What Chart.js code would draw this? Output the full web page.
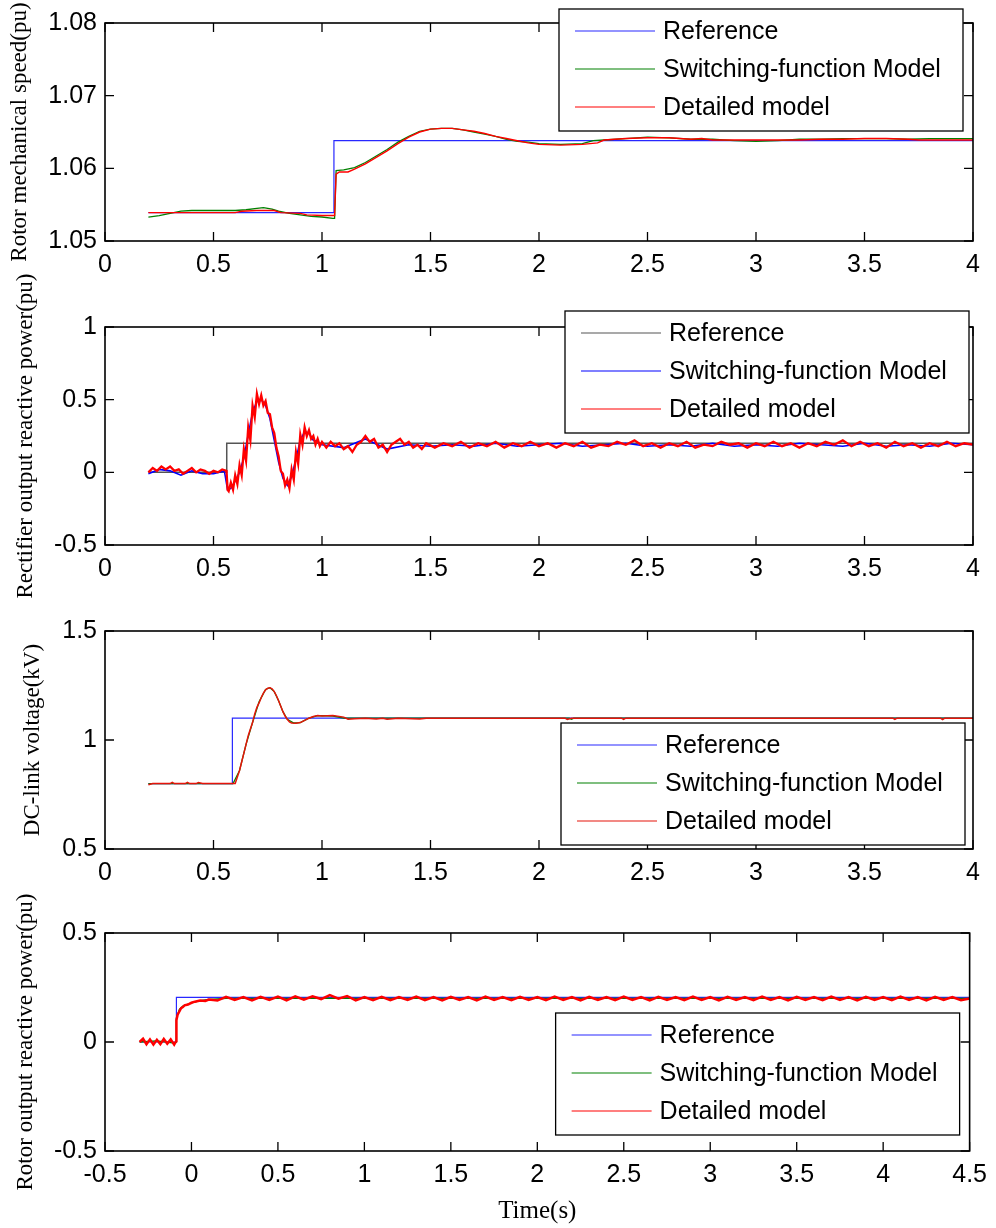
<!DOCTYPE html>
<html>
<head>
<meta charset="utf-8">
<script src="https://cdn.jsdelivr.net/npm/chart.js@4.4.1/dist/chart.umd.min.js"></script>
<style>
  body { margin: 0; background: #fff; width: 996px; height: 1228px; position: relative; overflow: hidden; }
  canvas { position: absolute; left: 0; }
</style>
</head>
<body>
<canvas id="c1" width="996" height="300" style="top:0px"></canvas>
<canvas id="c2" width="996" height="335" style="top:265px"></canvas>
<canvas id="c3" width="996" height="325" style="top:575px"></canvas>
<canvas id="c4" width="996" height="348" style="top:880px"></canvas>
<script>
// ---- data (time s, value) ----
const legendNames = ['Reference', 'Switching-function Model', 'Detailed model'];

// panel 1: rotor mechanical speed (pu)
const speedTicksX = [0, 0.5, 1, 1.5, 2, 2.5, 3, 3.5, 4];
const speedLabelsX = ['0', '0.5', '1', '1.5', '2', '2.5', '3', '3.5', '4'];
const speedTicksY = [1.05, 1.06, 1.07, 1.08];
const speedLabelsY = ['1.05', '1.06', '1.07', '1.08'];
const speedRef = [[0.2, 1.0539], [1.055, 1.0539], [1.055, 1.0638], [4.0, 1.0638]];
const speedSwitching = [
  [0.20, 1.0533], [0.25, 1.0535], [0.30, 1.0538], [0.35, 1.0541], [0.40, 1.0542], [0.50, 1.0542], [0.60, 1.0542],
  [0.65, 1.0543], [0.70, 1.0545], [0.73, 1.0546], [0.77, 1.0544], [0.80, 1.0541], [0.85, 1.0538], [0.90, 1.0536],
  [0.95, 1.0534], [1.00, 1.0533], [1.05, 1.0531], [1.058, 1.0531], [1.065, 1.0597], [1.10, 1.0598], [1.15, 1.0601],
  [1.20, 1.0608], [1.25, 1.0617], [1.30, 1.0626], [1.35, 1.0636], [1.40, 1.0644], [1.45, 1.0651], [1.50, 1.0654],
  [1.55, 1.0655], [1.60, 1.0655], [1.65, 1.0653], [1.70, 1.0650], [1.75, 1.0647], [1.80, 1.0644], [1.85, 1.0640],
  [1.90, 1.0637], [1.95, 1.0636], [2.00, 1.0634], [2.10, 1.0633], [2.20, 1.0634], [2.25, 1.0638], [2.30, 1.0639],
  [2.40, 1.0641], [2.50, 1.0643], [2.60, 1.0642], [2.70, 1.0640], [2.80, 1.0640], [2.90, 1.0638], [3.00, 1.0637],
  [3.10, 1.0638], [3.20, 1.0640], [3.30, 1.0640], [3.40, 1.0641], [3.50, 1.0641], [3.60, 1.0641], [3.70, 1.0640],
  [3.80, 1.0641], [3.90, 1.0641], [4.00, 1.0641]
];
const speedDetailed = [
  [0.20, 1.0539], [0.60, 1.0539], [0.63, 1.0541], [0.70, 1.0542], [0.78, 1.0542], [0.81, 1.0539], [0.90, 1.0538],
  [0.93, 1.0536], [1.00, 1.0535], [1.058, 1.0535], [1.065, 1.0592], [1.08, 1.0595], [1.12, 1.0595], [1.15, 1.0599],
  [1.20, 1.0606], [1.25, 1.0615], [1.30, 1.0624], [1.35, 1.0634], [1.40, 1.0643], [1.45, 1.0650], [1.50, 1.0654],
  [1.55, 1.0655], [1.60, 1.0655], [1.65, 1.0653], [1.70, 1.0651], [1.75, 1.0648], [1.80, 1.0644], [1.85, 1.0641],
  [1.90, 1.0638], [1.95, 1.0635], [2.00, 1.0633], [2.10, 1.0632], [2.20, 1.0633], [2.27, 1.0635], [2.30, 1.0639],
  [2.40, 1.0641], [2.50, 1.0642], [2.60, 1.0642], [2.70, 1.0640], [2.75, 1.0641], [2.80, 1.0639], [2.90, 1.0639],
  [3.00, 1.0639], [3.10, 1.0639], [3.20, 1.0639], [3.30, 1.0640], [3.40, 1.0640], [3.50, 1.0641], [3.60, 1.0641],
  [3.70, 1.0640], [3.75, 1.0639], [4.00, 1.0639]
];

// panel 2: rectifier output reactive power (pu)
const rectTicksY = [-0.5, 0, 0.5, 1];
const rectLabelsY = ['-0.5', '0', '0.5', '1'];
const rectRef = [[0.2, 0], [0.561, 0], [0.561, 0.2], [4.0, 0.2]];
const rectSwitching = [
  [0.20, -0.01], [0.25, 0.02], [0.30, 0.01], [0.35, -0.02], [0.40, 0.01], [0.45, -0.01], [0.50, -0.01], [0.55, 0.01],
  [0.565, -0.12], [0.58, -0.11], [0.60, -0.06], [0.62, 0.00], [0.64, 0.10], [0.66, 0.26], [0.68, 0.41], [0.70, 0.49],
  [0.72, 0.50], [0.74, 0.46], [0.76, 0.37], [0.78, 0.22], [0.80, 0.07], [0.82, -0.04], [0.84, -0.09], [0.86, -0.03],
  [0.88, 0.09], [0.90, 0.22], [0.92, 0.28], [0.94, 0.27], [0.96, 0.22], [0.98, 0.21], [1.00, 0.19], [1.10, 0.17],
  [1.20, 0.23], [1.30, 0.16], [1.40, 0.19], [1.50, 0.18], [1.60, 0.19], [1.70, 0.18], [1.80, 0.20], [1.90, 0.18],
  [2.00, 0.19], [2.10, 0.20], [2.20, 0.18], [2.30, 0.19], [2.40, 0.20], [2.50, 0.18], [2.60, 0.19], [2.70, 0.18],
  [2.80, 0.20], [2.90, 0.18], [3.00, 0.19], [3.10, 0.18], [3.20, 0.20], [3.30, 0.19], [3.40, 0.18], [3.50, 0.20],
  [3.60, 0.18], [3.70, 0.19], [3.80, 0.18], [3.90, 0.20], [4.00, 0.19]
];
const rectDetailed = [
  [0.20, 0.00], [0.22, 0.03], [0.24, 0.01], [0.26, 0.04], [0.28, 0.02], [0.30, 0.04], [0.32, 0.01], [0.34, 0.02],
  [0.36, -0.01], [0.38, 0.01], [0.40, 0.03], [0.42, 0.00], [0.44, 0.02], [0.46, 0.01], [0.48, -0.01], [0.50, 0.01],
  [0.52, 0.00], [0.54, 0.02], [0.56, 0.01], [0.565, -0.12], [0.57, -0.13], [0.58, -0.07], [0.59, -0.12], [0.60, -0.02],
  [0.61, -0.08], [0.62, 0.05], [0.63, -0.02], [0.64, 0.16], [0.65, 0.08], [0.66, 0.31], [0.67, 0.22], [0.68, 0.46],
  [0.69, 0.38], [0.70, 0.54], [0.71, 0.47], [0.72, 0.53], [0.73, 0.46], [0.74, 0.49], [0.75, 0.41], [0.76, 0.40],
  [0.77, 0.31], [0.78, 0.27], [0.79, 0.17], [0.80, 0.11], [0.81, 0.01], [0.82, -0.01], [0.83, -0.09], [0.84, -0.05],
  [0.85, -0.11], [0.86, 0.02], [0.87, -0.05], [0.88, 0.14], [0.89, 0.06], [0.90, 0.26], [0.91, 0.19], [0.92, 0.31],
  [0.93, 0.25], [0.94, 0.29], [0.95, 0.23], [0.96, 0.25], [0.97, 0.19], [0.98, 0.23], [0.99, 0.18], [1.00, 0.21],
  [1.02, 0.17], [1.04, 0.21], [1.06, 0.18], [1.08, 0.20], [1.10, 0.16], [1.12, 0.18], [1.14, 0.14], [1.16, 0.19],
  [1.18, 0.21], [1.20, 0.25], [1.22, 0.21], [1.24, 0.23], [1.26, 0.17], [1.28, 0.19], [1.30, 0.14], [1.32, 0.19],
  [1.34, 0.21], [1.36, 0.23], [1.38, 0.19], [1.40, 0.21], [1.42, 0.17], [1.44, 0.19], [1.46, 0.16], [1.48, 0.20],
  [1.52, 0.17], [1.56, 0.20], [1.60, 0.18], [1.64, 0.21], [1.68, 0.17], [1.72, 0.20], [1.76, 0.18], [1.80, 0.21],
  [1.84, 0.17], [1.88, 0.20], [1.92, 0.18], [1.96, 0.21], [2.00, 0.18], [2.04, 0.20], [2.08, 0.17], [2.12, 0.20],
  [2.16, 0.18], [2.20, 0.21], [2.24, 0.17], [2.28, 0.19], [2.32, 0.18], [2.36, 0.21], [2.40, 0.19], [2.44, 0.22],
  [2.48, 0.18], [2.52, 0.20], [2.56, 0.17], [2.60, 0.20], [2.64, 0.18], [2.68, 0.21], [2.72, 0.17], [2.76, 0.19],
  [2.80, 0.18], [2.84, 0.21], [2.88, 0.19], [2.92, 0.20], [2.96, 0.17], [3.00, 0.20], [3.04, 0.18], [3.08, 0.21],
  [3.12, 0.18], [3.16, 0.20], [3.20, 0.17], [3.24, 0.20], [3.28, 0.18], [3.32, 0.21], [3.36, 0.19], [3.40, 0.22],
  [3.44, 0.18], [3.48, 0.21], [3.52, 0.18], [3.56, 0.20], [3.60, 0.17], [3.64, 0.21], [3.68, 0.18], [3.72, 0.20],
  [3.76, 0.17], [3.80, 0.20], [3.84, 0.18], [3.88, 0.21], [3.92, 0.18], [3.96, 0.20], [4.00, 0.19]
];

// panel 3: DC-link voltage (kV)
const dcTicksY = [0.5, 1, 1.5];
const dcLabelsY = ['0.5', '1', '1.5'];
const dcRef = [[0.2, 0.8], [0.587, 0.8], [0.587, 1.1], [4.0, 1.1]];
const dcSwitching = [
  [0.20, 0.80], [0.59, 0.80], [0.62, 0.86], [0.65, 0.98], [0.68, 1.08], [0.71, 1.175], [0.74, 1.232], [0.76, 1.24],
  [0.78, 1.222], [0.80, 1.18], [0.82, 1.13], [0.84, 1.095], [0.87, 1.078], [0.90, 1.08], [0.94, 1.10], [0.98, 1.112],
  [1.05, 1.11], [1.10, 1.10], [1.50, 1.10], [2.14, 1.10], [2.15, 1.095], [2.16, 1.10], [4.00, 1.10]
];
const dcDetailed = [
  [0.20, 0.795], [0.22, 0.80], [0.30, 0.80], [0.31, 0.806], [0.32, 0.80], [0.37, 0.80], [0.38, 0.806], [0.39, 0.80],
  [0.42, 0.80], [0.43, 0.805], [0.45, 0.80], [0.50, 0.80], [0.60, 0.80], [0.61, 0.83], [0.62, 0.86], [0.63, 0.90],
  [0.64, 0.94], [0.65, 0.98], [0.66, 1.02], [0.67, 1.05], [0.68, 1.08], [0.69, 1.12], [0.70, 1.15], [0.71, 1.17],
  [0.72, 1.195], [0.73, 1.215], [0.74, 1.23], [0.75, 1.238], [0.76, 1.24], [0.77, 1.235], [0.78, 1.222], [0.79, 1.203],
  [0.80, 1.18], [0.81, 1.155], [0.82, 1.13], [0.83, 1.11], [0.84, 1.095], [0.85, 1.083], [0.86, 1.078], [0.88, 1.077],
  [0.90, 1.08], [0.92, 1.09], [0.94, 1.10], [0.96, 1.108], [0.98, 1.112], [1.00, 1.11], [1.05, 1.112], [1.10, 1.105],
  [1.12, 1.095], [1.15, 1.097], [1.20, 1.10], [1.25, 1.096], [1.28, 1.10], [1.30, 1.095], [1.35, 1.10], [1.45, 1.096],
  [1.48, 1.10], [2.12, 1.10], [2.13, 1.094], [2.15, 1.10], [2.38, 1.10], [2.39, 1.095], [2.40, 1.10], [3.63, 1.10],
  [3.64, 1.095], [3.65, 1.10], [3.85, 1.10], [3.86, 1.094], [3.87, 1.10], [4.00, 1.10]
];

// panel 4: rotor output reactive power (pu)
const rotorTicksX = [-0.5, 0, 0.5, 1, 1.5, 2, 2.5, 3, 3.5, 4, 4.5];
const rotorLabelsX = ['-0.5', '0', '0.5', '1', '1.5', '2', '2.5', '3', '3.5', '4', '4.5'];
const rotorTicksY = [-0.5, 0, 0.5];
const rotorLabelsY = ['-0.5', '0', '0.5'];
const rotorRef = [[-0.3, 0], [-0.087, 0], [-0.087, 0.205], [4.5, 0.205]];
const rotorSwitching = [
  [-0.30, 0.0], [-0.20, 0.005], [-0.10, -0.005], [-0.088, 0.0], [-0.087, 0.11], [-0.07, 0.15], [-0.05, 0.165],
  [-0.03, 0.17], [0.00, 0.18], [0.05, 0.19], [0.10, 0.195], [0.20, 0.20], [4.50, 0.20]
];
const rotorDetailed = [
  [-0.30, 0.00], [-0.28, 0.015], [-0.26, -0.01], [-0.24, 0.012], [-0.22, -0.012], [-0.20, 0.01], [-0.18, -0.01],
  [-0.16, 0.014], [-0.14, -0.008], [-0.12, 0.012], [-0.10, -0.012], [-0.088, 0.005], [-0.087, 0.10], [-0.08, 0.125],
  [-0.07, 0.14], [-0.06, 0.155], [-0.05, 0.16], [-0.04, 0.168], [-0.02, 0.172], [0.00, 0.18], [0.02, 0.185],
  [0.05, 0.19], [0.08, 0.188], [0.10, 0.195], [0.15, 0.19], [0.20, 0.207], [0.25, 0.193], [0.30, 0.206],
  [0.35, 0.191], [0.40, 0.207], [0.45, 0.193], [0.50, 0.208], [0.55, 0.191], [0.60, 0.209], [0.65, 0.194],
  [0.70, 0.210], [0.75, 0.197], [0.80, 0.215], [0.85, 0.199], [0.90, 0.211], [0.95, 0.191], [1.00, 0.206],
  [1.05, 0.192], [1.10, 0.207], [1.15, 0.192], [1.20, 0.206], [1.25, 0.193], [1.30, 0.208], [1.35, 0.192],
  [1.40, 0.206], [1.45, 0.191], [1.50, 0.207], [1.55, 0.193], [1.60, 0.206], [1.65, 0.191], [1.70, 0.208],
  [1.75, 0.193], [1.80, 0.206], [1.85, 0.192], [1.90, 0.207], [1.95, 0.193], [2.00, 0.206], [2.05, 0.192],
  [2.10, 0.208], [2.15, 0.193], [2.20, 0.206], [2.25, 0.191], [2.30, 0.207], [2.35, 0.193], [2.40, 0.206],
  [2.45, 0.192], [2.50, 0.208], [2.55, 0.193], [2.60, 0.206], [2.65, 0.191], [2.70, 0.207], [2.75, 0.193],
  [2.80, 0.206], [2.85, 0.192], [2.90, 0.208], [2.95, 0.193], [3.00, 0.206], [3.05, 0.191], [3.10, 0.207],
  [3.15, 0.193], [3.20, 0.206], [3.25, 0.192], [3.30, 0.208], [3.35, 0.193], [3.40, 0.206], [3.45, 0.191],
  [3.50, 0.207], [3.55, 0.193], [3.60, 0.206], [3.65, 0.192], [3.70, 0.208], [3.75, 0.193], [3.80, 0.206],
  [3.85, 0.191], [3.90, 0.207], [3.95, 0.193], [4.00, 0.206], [4.05, 0.192], [4.10, 0.208], [4.15, 0.193],
  [4.20, 0.206], [4.25, 0.191], [4.30, 0.207], [4.35, 0.193], [4.40, 0.206], [4.45, 0.192], [4.50, 0.20]
];

// ---- helpers ----
const SANS = 'Liberation Sans, Arial, sans-serif';
const SERIF = 'Liberation Serif, Times New Roman, serif';
const TICK = 9;
const pts = arr => arr.map(([x, y]) => ({ x, y }));

// box frame + inward ticks on all four sides (MATLAB style)
const framePlugin = {
  id: 'frame',
  afterDatasetsDraw(chart) {
    const { ctx, chartArea: a, scales: { x, y } } = chart;
    ctx.save();
    ctx.strokeStyle = '#000';
    ctx.lineWidth = 1.3;
    ctx.beginPath();
    x.ticks.forEach(t => {
      const px = x.getPixelForValue(t.value);
      ctx.moveTo(px, a.bottom); ctx.lineTo(px, a.bottom - TICK);
      ctx.moveTo(px, a.top); ctx.lineTo(px, a.top + TICK);
    });
    y.ticks.forEach(t => {
      const py = y.getPixelForValue(t.value);
      ctx.moveTo(a.left, py); ctx.lineTo(a.left + TICK, py);
      ctx.moveTo(a.right, py); ctx.lineTo(a.right - TICK, py);
    });
    ctx.stroke();
    ctx.lineWidth = 1.6;
    ctx.strokeRect(a.left, a.top, a.right - a.left, a.bottom - a.top);
    ctx.restore();
  }
};

// legend box drawn on top of the axes, white filled
const boxLegend = {
  id: 'boxLegend',
  afterDraw(chart, args, o) {
    const { ctx, chartArea: a } = chart;
    const w = 404, h = 122;
    const bx = a.right - o.right - w;
    const by = o.top != null ? a.top + o.top : a.bottom - o.bottom - h;
    ctx.save();
    ctx.fillStyle = '#fff';
    ctx.fillRect(bx, by, w, h);
    ctx.strokeStyle = '#000';
    ctx.lineWidth = 1.3;
    ctx.strokeRect(bx, by, w, h);
    ctx.font = '25px ' + SANS;
    ctx.textBaseline = 'middle';
    ctx.fillStyle = '#000';
    chart.data.datasets.forEach((d, i) => {
      const ly = by + 22 + i * 38;
      ctx.strokeStyle = d.legendColor || d.borderColor;
      ctx.lineWidth = 1.2;
      ctx.beginPath(); ctx.moveTo(bx + 16, ly); ctx.lineTo(bx + 96, ly); ctx.stroke();
      ctx.fillText(d.label, bx + 104, ly + 1);
    });
    ctx.restore();
  }
};

function panel(id, o) {
  const el = document.getElementById(id);
  return new Chart(el, {
    type: 'scatter',
    data: {
      datasets: o.series.map((s, i) => ({
        label: legendNames[i],
        data: pts(s.data),
        showLine: true,
        pointRadius: 0,
        borderColor: s.color,
        legendColor: s.legendColor,
        borderWidth: s.width,
        tension: 0,
        order: 2 - i
      }))
    },
    options: {
      animation: false, responsive: false, maintainAspectRatio: false, events: [],
      layout: { padding: { top: o.padTop, right: 23, bottom: 0, left: 0 } },
      plugins: { legend: { display: false }, tooltip: { enabled: false }, boxLegend: o.legend },
      scales: {
        x: {
          type: 'linear', min: o.xTicks[0], max: o.xTicks[o.xTicks.length - 1],
          grid: { display: false, drawTicks: false }, border: { display: false },
          afterBuildTicks: s => { s.ticks = o.xTicks.map(v => ({ value: v })); },
          afterFit: s => { s.height = o.xHeight; },
          ticks: { autoSkip: false, maxRotation: 0, padding: 9, color: '#000', font: { family: SANS, size: 25 },
            callback: (v, i) => o.xLabels[i] },
          title: o.xTitle ? { display: true, text: o.xTitle, color: '#000', font: { family: SERIF, size: 25 }, padding: { top: 0, bottom: 2 } } : { display: false }
        },
        y: {
          min: o.yTicks[0], max: o.yTicks[o.yTicks.length - 1],
          grid: { display: false, drawTicks: false }, border: { display: false },
          afterBuildTicks: s => { s.ticks = o.yTicks.map(v => ({ value: v })); },
          afterFit: s => { s.width = 105; },
          ticks: { autoSkip: false, padding: 8, color: '#000', font: { family: SANS, size: 25 },
            callback: (v, i) => o.yLabels[i] },
          title: { display: true, text: o.yTitle, color: '#000', font: { family: SERIF, size: 23 }, padding: { top: o.yTitlePad, bottom: 0 } }
        }
      }
    },
    plugins: [framePlugin, boxLegend]
  });
}

const BLUE = 'rgb(40,40,255)', GREEN = 'rgb(0,128,0)', RED = 'rgb(255,0,0)';

panel('c1', {
  padTop: 23, xHeight: 59,
  xTicks: speedTicksX, xLabels: speedLabelsX, yTicks: speedTicksY, yLabels: speedLabelsY,
  yTitle: 'Rotor mechanical speed(pu)', yTitlePad: 6,
  legend: { right: 10, top: -14 },
  series: [
    { data: speedRef, color: BLUE, width: 1.2 },
    { data: speedSwitching, color: GREEN, width: 1.3 },
    { data: speedDetailed, color: RED, width: 1.4 }
  ]
});
panel('c2', {
  padTop: 62, xHeight: 55,
  xTicks: speedTicksX, xLabels: speedLabelsX, yTicks: rectTicksY, yLabels: rectLabelsY,
  yTitle: 'Rectifier output reactive power(pu)', yTitlePad: 12,
  legend: { right: 4, top: -16 },
  series: [
    { data: rectRef, color: '#555', width: 1.5 },
    { data: rectSwitching, color: 'rgb(0,0,255)', width: 1.6 },
    { data: rectDetailed, color: RED, width: 2.3 }
  ]
});
panel('c3', {
  padTop: 56, xHeight: 51,
  xTicks: speedTicksX, xLabels: speedLabelsX, yTicks: dcTicksY, yLabels: dcLabelsY,
  yTitle: 'DC-link voltage(kV)', yTitlePad: 19,
  legend: { right: 8, bottom: 4 },
  series: [
    { data: dcRef, color: BLUE, width: 1.2 },
    { data: dcSwitching, color: GREEN, width: 1.3 },
    { data: dcDetailed, color: 'rgb(230,20,10)', width: 1.5 }
  ]
});
panel('c4', {
  padTop: 53, xHeight: 77,
  xTicks: rotorTicksX, xLabels: rotorLabelsX, yTicks: rotorTicksY, yLabels: rotorLabelsY,
  yTitle: 'Rotor output reactive power(pu)', yTitlePad: 12, xTitle: 'Time(s)',
  legend: { right: 10, bottom: 16 },
  series: [
    { data: rotorRef, color: BLUE, width: 1.2 },
    { data: rotorSwitching, color: GREEN, width: 1.3 },
    { data: rotorDetailed, color: RED, width: 2.5 }
  ]
});
</script>
</body>
</html>
